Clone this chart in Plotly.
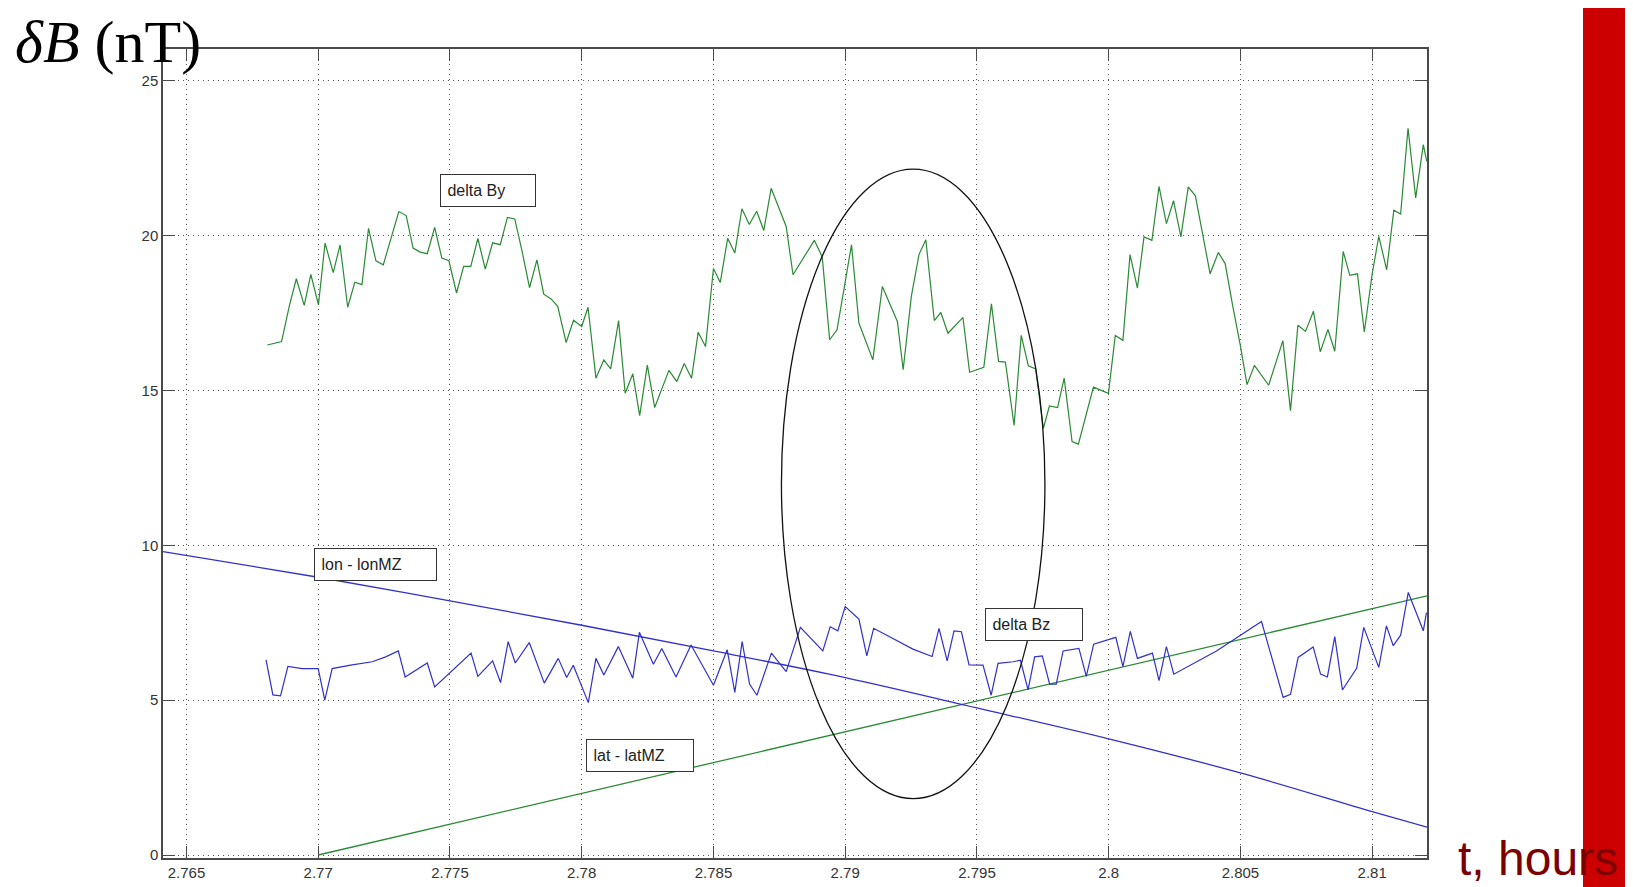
import plotly.graph_objects as go

# ---------------- data ----------------
by_t = [2.76807, 2.76861, 2.76890, 2.76917, 2.76947, 2.76972, 2.77001, 2.77026, 2.77057, 2.77083,
        2.77112, 2.77139, 2.77166, 2.77191, 2.77219, 2.77247, 2.77306, 2.77334, 2.77360, 2.77387,
        2.77414, 2.77442, 2.77469, 2.77496, 2.77525, 2.77552, 2.77579, 2.77606, 2.77634, 2.77662,
        2.77691, 2.77718, 2.77746, 2.77773, 2.77802, 2.77830, 2.77856, 2.77884, 2.77909, 2.77941,
        2.77969, 2.78000, 2.78024, 2.78054, 2.78084, 2.78110, 2.78140, 2.78165, 2.78194, 2.78220,
        2.78249, 2.78277, 2.78331, 2.78361, 2.78389, 2.78417, 2.78442, 2.78470, 2.78500, 2.78526,
        2.78554, 2.78581, 2.78608, 2.78636, 2.78664, 2.78691, 2.78719, 2.78776, 2.78802, 2.78883,
        2.78913, 2.78941, 2.78969, 2.79024, 2.79052, 2.79105, 2.79141, 2.79198, 2.79220, 2.79251,
        2.79280, 2.79306, 2.79338, 2.79363, 2.79390, 2.79447, 2.79472, 2.79526, 2.79555, 2.79582,
        2.79608, 2.79641, 2.79668, 2.79695, 2.79723, 2.79752, 2.79775, 2.79806, 2.79831, 2.79861,
        2.79885, 2.79942, 2.79999, 2.80025, 2.80054, 2.80081, 2.80109, 2.80134, 2.80164, 2.80191,
        2.80219, 2.80246, 2.80274, 2.80302, 2.80329, 2.80357, 2.80385, 2.80416, 2.80442, 2.80471,
        2.80499, 2.80525, 2.80553, 2.80607, 2.80661, 2.80690, 2.80718, 2.80747, 2.80777, 2.80803,
        2.80832, 2.80858, 2.80890, 2.80915, 2.80944, 2.80970, 2.81000, 2.81025, 2.81055, 2.81082,
        2.81108, 2.81136, 2.81165, 2.81194, 2.81207]
by_v = [16.47, 16.58, 17.72, 18.61, 17.75, 18.75, 17.77, 19.76, 18.81, 19.70,
        17.69, 18.50, 18.42, 20.24, 19.19, 19.06, 20.78, 20.65, 19.60, 19.47,
        19.42, 20.27, 19.28, 19.19, 18.15, 19.01, 19.01, 19.91, 18.92, 19.77,
        19.71, 20.59, 20.54, 19.53, 18.32, 19.22, 18.11, 17.96, 17.72, 16.55,
        17.27, 17.07, 17.69, 15.40, 15.99, 15.70, 17.26, 14.91, 15.54, 14.19,
        15.82, 14.45, 15.65, 15.29, 15.87, 15.40, 16.88, 16.42, 18.94, 18.49,
        19.92, 19.44, 20.87, 20.36, 20.79, 20.17, 21.53, 20.30, 18.74, 19.85,
        19.31, 16.64, 16.96, 19.71, 17.18, 15.99, 18.36, 17.23, 15.67, 18.04,
        19.39, 19.87, 17.26, 17.52, 16.85, 17.36, 15.59, 15.75, 17.80, 15.94,
        15.92, 13.87, 16.78, 15.80, 15.70, 13.78, 14.50, 14.45, 15.40, 13.35,
        13.27, 15.11, 14.91, 16.78, 16.62, 19.39, 18.31, 19.96, 19.85, 21.59,
        20.39, 21.13, 19.96, 21.58, 21.29, 20.03, 18.77, 19.46, 19.10, 17.72,
        16.48, 15.19, 15.81, 15.17, 16.61, 14.35, 17.11, 16.91, 17.56, 16.25,
        16.97, 16.27, 19.49, 18.72, 18.77, 16.89, 18.77, 19.98, 18.90, 20.82,
        20.70, 23.47, 21.22, 22.94, 22.40]

bz_t = [2.76802, 2.76828, 2.76857, 2.76885, 2.76939, 2.77000, 2.77025, 2.77053, 2.77123, 2.77205,
        2.77256, 2.77304, 2.77330, 2.77414, 2.77442, 2.77580, 2.77606, 2.77662, 2.77692, 2.77721,
        2.77748, 2.77801, 2.77858, 2.77911, 2.77943, 2.77968, 2.78025, 2.78054, 2.78084, 2.78139,
        2.78194, 2.78219, 2.78272, 2.78304, 2.78358, 2.78415, 2.78500, 2.78552, 2.78581, 2.78609,
        2.78637, 2.78665, 2.78720, 2.78776, 2.78830, 2.78915, 2.78943, 2.78972, 2.79000, 2.79052,
        2.79082, 2.79108, 2.79257, 2.79330, 2.79356, 2.79387, 2.79413, 2.79441, 2.79470, 2.79523,
        2.79554, 2.79580, 2.79637, 2.79665, 2.79694, 2.79719, 2.79748, 2.79776, 2.79801, 2.79827,
        2.79887, 2.79915, 2.79943, 2.80027, 2.80054, 2.80082, 2.80109, 2.80166, 2.80191, 2.80219,
        2.80247, 2.80409, 2.80580, 2.80662, 2.80690, 2.80719, 2.80776, 2.80804, 2.80830, 2.80858,
        2.80887, 2.80941, 2.80968, 2.81025, 2.81054, 2.81080, 2.81108, 2.81137, 2.81194, 2.81206]
bz_v = [6.30, 5.17, 5.14, 6.09, 6.02, 6.02, 5.00, 6.02, 6.13, 6.24,
        6.40, 6.59, 5.75, 6.20, 5.43, 6.52, 5.77, 6.27, 5.57, 6.89,
        6.20, 6.86, 5.55, 6.35, 5.73, 6.13, 4.92, 6.35, 5.81, 6.73,
        5.71, 7.19, 6.16, 6.67, 5.75, 6.78, 5.48, 6.63, 5.25, 6.89,
        5.52, 5.16, 6.52, 5.92, 7.35, 6.59, 7.37, 7.24, 8.02, 7.62,
        6.43, 7.32, 6.65, 6.41, 7.32, 6.27, 7.24, 7.21, 6.14, 6.13,
        5.16, 6.19, 6.24, 6.29, 5.33, 6.40, 6.43, 5.52, 5.52, 6.59,
        6.67, 5.77, 6.81, 7.03, 6.08, 7.22, 6.35, 6.52, 5.63, 6.73,
        5.84, 6.59, 7.54, 5.09, 5.19, 6.38, 6.72, 5.84, 5.75, 7.05,
        5.33, 6.03, 7.35, 6.06, 7.40, 6.76, 7.10, 8.48, 7.24, 7.83]

lon_t = [2.76411, 2.770, 2.775, 2.780, 2.785, 2.790, 2.795, 2.800, 2.805, 2.810, 2.81208]
lon_v = [9.80, 8.97, 8.21, 7.42, 6.59, 5.73, 4.75, 3.75, 2.65, 1.40, 0.90]

lat_t = [2.770, 2.81208]
lat_v = [0.0, 8.37]

x_ticks = [2.765, 2.77, 2.775, 2.78, 2.785, 2.79, 2.795, 2.8, 2.805, 2.81]
x_tick_text = ["2.765", "2.77", "2.775", "2.78", "2.785", "2.79", "2.795", "2.8", "2.805", "2.81"]
y_ticks = [0, 5, 10, 15, 20, 25]
y_tick_text = ["0", "5", "10", "15", "20", "25"]

x_range = [2.76411, 2.81208]
y_range = [-0.097, 26.03]

labels = ["delta By", "lon - lonMZ", "delta Bz", "lat - latMZ"]
label_x = [2.77644, 2.77218, 2.79715, 2.78220]
label_y = [21.47, 9.39, 7.45, 3.20]
label_w = [90, 117, 92, 102]

ellipse_x = [2.78758, 2.79758]
ellipse_y = [1.82, 22.15]

# ---------------- layout geometry ----------------
# the page body adds an 8px margin, so the figure is drawn 8px smaller and
# all window-pixel positions are shifted by that offset
OFF = 8
W, H = 1633 - OFF, 887 - OFF
PL, PR, PT, PB = 163, 1427, 49, 858          # plot edges in window pixels
ML, MR, MT, MB = PL - OFF, W - (PR - OFF), PT - OFF, H - (PB - OFF)
PW, PH = W - ML - MR, H - MT - MB

def px_x(px):
    return (px - OFF - ML) / PW

def px_y(py):
    return (H - MB - (py - OFF)) / PH

GREEN = "#2a8a35"
BLUE = "#3030cc"

fig = go.Figure()
fig.add_trace(go.Scatter(x=lat_t, y=lat_v, mode="lines",
                         line=dict(color=GREEN, width=1.3), hoverinfo="skip"))
fig.add_trace(go.Scatter(x=lon_t, y=lon_v, mode="lines", line_shape="spline",
                         line=dict(color=BLUE, width=1.3), hoverinfo="skip"))
fig.add_trace(go.Scatter(x=by_t, y=by_v, mode="lines",
                         line=dict(color=GREEN, width=1.2), hoverinfo="skip"))
fig.add_trace(go.Scatter(x=bz_t, y=bz_v, mode="lines",
                         line=dict(color=BLUE, width=1.2), hoverinfo="skip"))

# ellipse
fig.add_shape(type="circle", xref="x", yref="y",
              x0=ellipse_x[0], x1=ellipse_x[1], y0=ellipse_y[0], y1=ellipse_y[1],
              line=dict(color="#111111", width=1.3))

# red bar on the right
fig.add_shape(type="rect", xref="paper", yref="paper",
              x0=px_x(1583), x1=px_x(1645), y0=px_y(900), y1=px_y(-10),
              fillcolor="#cc0000", line=dict(width=0), layer="above")

for txt, lx, ly, lw in zip(labels, label_x, label_y, label_w):
    fig.add_annotation(x=lx, y=ly, xref="x", yref="y", text="&nbsp;" + txt, showarrow=False,
                       width=lw, height=27, align="left", xanchor="center", yanchor="middle",
                       font=dict(family="Liberation Sans, Arial", size=16, color="#222222"),
                       bordercolor="#333333", borderwidth=1, borderpad=2, bgcolor="white")

fig.add_annotation(xref="paper", yref="paper", x=px_x(13), y=px_y(42),
                   xanchor="left", yanchor="middle", showarrow=False,
                   text="<i>δB</i> (nT)",
                   font=dict(family="Liberation Serif, Times New Roman", size=60, color="black"))

fig.add_annotation(xref="paper", yref="paper", x=px_x(1456), y=px_y(858),
                   xanchor="left", yanchor="middle", showarrow=False,
                   text="t, hours",
                   font=dict(family="Liberation Sans, Arial", size=48, color="#7d0000"))

axis_common = dict(showline=True, linecolor="#4a4a4a", linewidth=1.5, mirror="ticks",
                   ticks="inside", ticklen=12, tickcolor="#4a4a4a", tickwidth=1.2,
                   showgrid=True, gridcolor="#555555", gridwidth=1, griddash="1px,4px",
                   zeroline=False, automargin=False,
                   tickfont=dict(family="Liberation Sans, Arial", size=15, color="#333333"))

fig.update_layout(
    width=W, height=H,
    margin=dict(l=ML, r=MR, t=MT, b=MB, autoexpand=False),
    paper_bgcolor="white", plot_bgcolor="white",
    showlegend=False,
    xaxis=dict(range=x_range, tickvals=x_ticks, ticktext=x_tick_text, **axis_common),
    yaxis=dict(range=y_range, tickvals=y_ticks, ticktext=y_tick_text, **axis_common),
)

fig.write_html("out.html")
